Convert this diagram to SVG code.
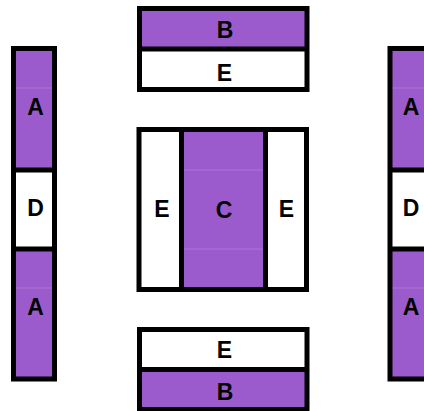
<svg xmlns="http://www.w3.org/2000/svg" width="424" height="411" viewBox="0 0 424 411">
<style>
.p{fill:#9c5bcd}
.w{fill:#ffffff}
.b{fill:none;stroke:#000;stroke-width:5}
.f{stroke:#a978d6;stroke-width:1}
text{font-family:"Liberation Sans",Arial,sans-serif;font-weight:bold;font-size:23px;fill:#000;text-anchor:middle;dominant-baseline:central}
</style>
<rect width="424" height="411" fill="#fff"/>
<g id="top">
<rect class="p" x="139.5" y="8.5" width="167.5" height="40.5"/>
<rect class="w" x="139.5" y="49" width="167.5" height="40.5"/>
<rect class="b" x="139.5" y="8.5" width="167.5" height="81"/>
<line x1="139.5" y1="49" x2="307" y2="49" stroke="#000" stroke-width="5"/>
<text x="225" y="30">B</text>
<text x="224.5" y="72.5">E</text>
</g>
<g id="left">
<rect class="p" x="13.5" y="48.5" width="41" height="121.5"/>
<rect class="w" x="13.5" y="170" width="41" height="79"/>
<rect class="p" x="13.5" y="249" width="41" height="130"/>
<line class="f" x1="16" y1="88" x2="52" y2="88"/>
<line class="f" x1="16" y1="288" x2="52" y2="288"/>
<rect class="b" x="13.5" y="48.5" width="41" height="330.5"/>
<line x1="13.5" y1="170" x2="54.5" y2="170" stroke="#000" stroke-width="5"/>
<line x1="13.5" y1="249" x2="54.5" y2="249" stroke="#000" stroke-width="5"/>
<text x="35.5" y="107">A</text>
<text x="35.5" y="208">D</text>
<text x="35.5" y="307">A</text>
</g>
<g id="center">
<rect class="w" x="139" y="129.5" width="167.5" height="160"/>
<rect class="p" x="181.5" y="129.5" width="84" height="160"/>
<line class="f" x1="184" y1="170" x2="263" y2="170"/>
<line class="f" x1="184" y1="249" x2="263" y2="249"/>
<rect class="b" x="139" y="129.5" width="167.5" height="160"/>
<line x1="181.5" y1="129.5" x2="181.5" y2="289.5" stroke="#000" stroke-width="5"/>
<line x1="265.5" y1="129.5" x2="265.5" y2="289.5" stroke="#000" stroke-width="5"/>
<text x="162" y="209">E</text>
<text x="224" y="210">C</text>
<text x="286.5" y="209">E</text>
</g>
<g id="right">
<rect class="p" x="390" y="48.5" width="41" height="121.5"/>
<rect class="w" x="390" y="170" width="41" height="79"/>
<rect class="p" x="390" y="249" width="41" height="130"/>
<line class="f" x1="392" y1="88" x2="424" y2="88"/>
<line class="f" x1="392" y1="288" x2="424" y2="288"/>
<rect class="b" x="390" y="48.5" width="41" height="330.5"/>
<line x1="390" y1="170" x2="431" y2="170" stroke="#000" stroke-width="5"/>
<line x1="390" y1="249" x2="431" y2="249" stroke="#000" stroke-width="5"/>
<text x="411" y="107">A</text>
<text x="411" y="208">D</text>
<text x="411" y="307">A</text>
</g>
<g id="bottom">
<rect class="w" x="139.5" y="329.5" width="167.5" height="40"/>
<rect class="p" x="139.5" y="369.5" width="167.5" height="40"/>
<rect class="b" x="139.5" y="329.5" width="167.5" height="80"/>
<line x1="139.5" y1="369.5" x2="307" y2="369.5" stroke="#000" stroke-width="5"/>
<text x="224.5" y="350">E</text>
<text x="225" y="391.5">B</text>
</g>
<g id="connectors"></g>
</svg>
